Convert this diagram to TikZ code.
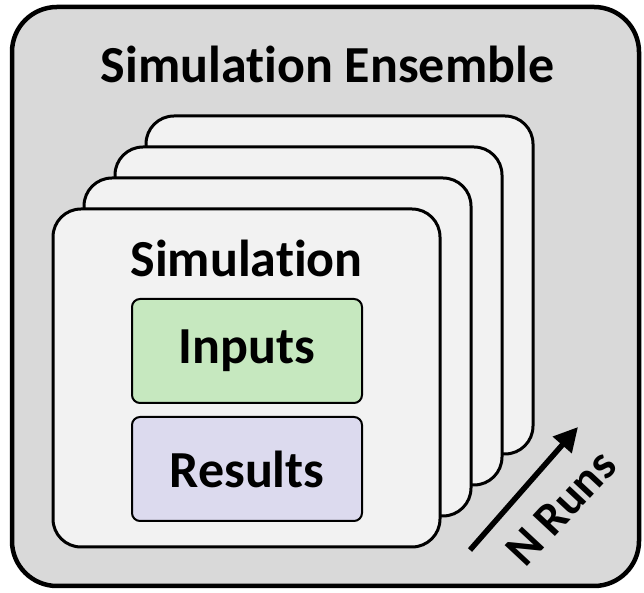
\documentclass[tikz,border=0pt]{standalone}
\usepackage{fontspec}
\setmainfont[Ligatures=NoCommon]{Carlito}
\usepackage{tikz}
\usetikzlibrary{arrows.meta}
\definecolor{ensgray}{HTML}{D9D9D9}
\definecolor{cardgray}{HTML}{F2F2F2}
\definecolor{inputgreen}{HTML}{C6E8BF}
\definecolor{resultpurple}{HTML}{DCDAEE}
\newcommand{\bigbf}{\fontsize{52}{60}\selectfont\bfseries}

\begin{document}
\begin{tikzpicture}[x=1pt,y=1pt,
    card/.style={draw,line width=3pt,fill=cardgray,rounded corners=28pt,minimum width=387pt,minimum height=338pt,inner sep=0pt},
    part/.style={draw,line width=2pt,rounded corners=8pt,minimum width=230pt,minimum height=104pt,inner sep=0pt,font=\bigbf}]
        \useasboundingbox (0,0) rectangle (644,593);
        \node[draw,line width=4.5pt,fill=ensgray,rounded corners=45pt,minimum width=627pt,minimum height=579pt,inner sep=0pt] (ensemble) at (325.5,296.5) {};
        \node[font=\bigbf,inner sep=0pt] (enstitle) at (327.5,529) {Simulation Ensemble};
        \node[card] (run4) at (339.5,308) {};
        \node[card] (run3) at (308.5,277) {};
        \node[card] (run2) at (277.5,246) {};
        \node[card] (run1) at (246.5,215) {};
        \node[font=\bigbf,inner sep=0pt] (simtitle) at (246.5,335) {Simulation};
        \node[part,fill=inputgreen] (inputs) at (247,242) {Inputs};
        \node[part,fill=resultpurple] (results) at (247,124) {Results};
        \coordinate (runsfrom) at (470,43);
        \coordinate (runsto) at (578,166);
        \draw[line width=5.5pt,-{Triangle[length=24pt,width=24pt]}] (runsfrom) -- (runsto);
        \node[font=\fontsize{47}{52}\selectfont\bfseries,rotate=47,inner sep=0pt] (nruns) at (561,85) {N Runs};
    \end{tikzpicture}
\end{document}
